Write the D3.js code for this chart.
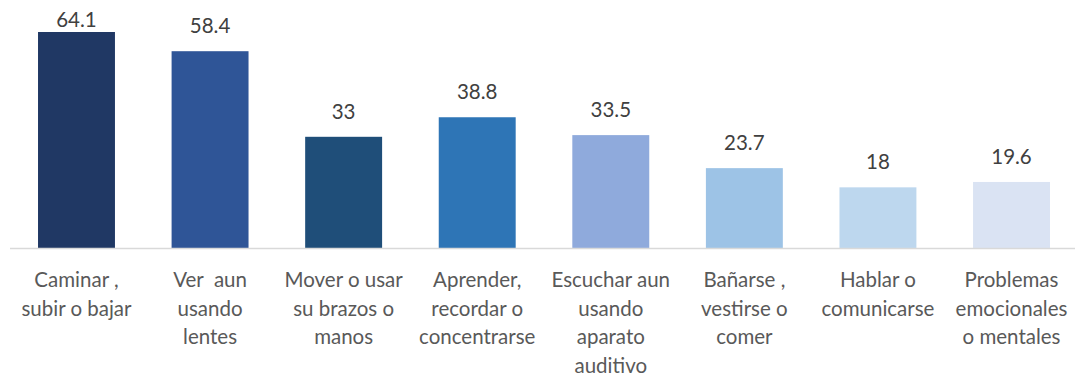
<!DOCTYPE html>
<html>
<head>
<meta charset="utf-8">
<script src="https://cdn.jsdelivr.net/npm/d3@7"></script>
<style>
  html, body { margin: 0; padding: 0; background: #fff; }
  svg { display: block; }
  text { font-family: Lato, "Open Sans", sans-serif; }
</style>
</head>
<body>
<svg id="chart" width="1075" height="379"></svg>
<script>
// Category labels, one array entry per text line
const categoryLines = [
  ["Caminar ,", "subir o bajar"],
  ["Ver  aun", "usando", "lentes"],
  ["Mover o usar", "su brazos o", "manos"],
  ["Aprender,", "recordar o", "concentrarse"],
  ["Escuchar aun", "usando", "aparato", "auditivo"],
  ["Bañarse ,", "vestirse o", "comer"],
  ["Hablar o", "comunicarse"],
  ["Problemas", "emocionales", "o mentales"]
];
const values = [64.1, 58.4, 33, 38.8, 33.5, 23.7, 18, 19.6];
const barColors = ["#203864", "#2F5597", "#1F4E79", "#2E75B6", "#8FAADC", "#9DC3E6", "#BDD7EE", "#DAE3F3"];

const svg = d3.select("#chart");
const baseY = 248;
const ids = d3.range(values.length);

const x = d3.scaleBand()
  .domain(ids)
  .range([9.7, 1078.3])
  .paddingInner(0.424)
  .paddingOuter(0.212);

const y = d3.scaleLinear()
  .domain([0, 64.1])
  .range([baseY, 32]);

// bars
svg.append("g").selectAll("rect")
  .data(ids)
  .join("rect")
  .attr("x", i => x(i))
  .attr("y", i => y(values[i]))
  .attr("width", x.bandwidth())
  .attr("height", i => baseY - y(values[i]))
  .attr("fill", i => barColors[i]);

// category axis line
svg.append("line")
  .attr("x1", 10).attr("x2", 1075)
  .attr("y1", baseY + 0.5).attr("y2", baseY + 0.5)
  .attr("stroke", "#d9d9d9")
  .attr("stroke-width", 1.5);

// value labels above bars
svg.append("g").selectAll("text")
  .data(ids)
  .join("text")
  .attr("x", i => x(i) + x.bandwidth() / 2)
  .attr("y", i => Math.max(y(values[i]) - 18, 27))
  .attr("text-anchor", "middle")
  .attr("font-size", 20.5)
  .attr("fill", "#404040")
  .text(i => String(values[i]));

// wrapped category labels
const cat = svg.append("g").selectAll("text")
  .data(ids)
  .join("text")
  .attr("text-anchor", "middle")
  .attr("font-size", 20.5)
  .attr("fill", "#595959")
  .attr("xml:space", "preserve")
  .style("white-space", "pre");

cat.selectAll("tspan")
  .data(i => categoryLines[i].map(t => ({ i, t })))
  .join("tspan")
  .attr("x", d => x(d.i) + x.bandwidth() / 2)
  .attr("y", (d, k) => 287 + k * 28.7)
  .text(d => d.t);
</script>
</body>
</html>
